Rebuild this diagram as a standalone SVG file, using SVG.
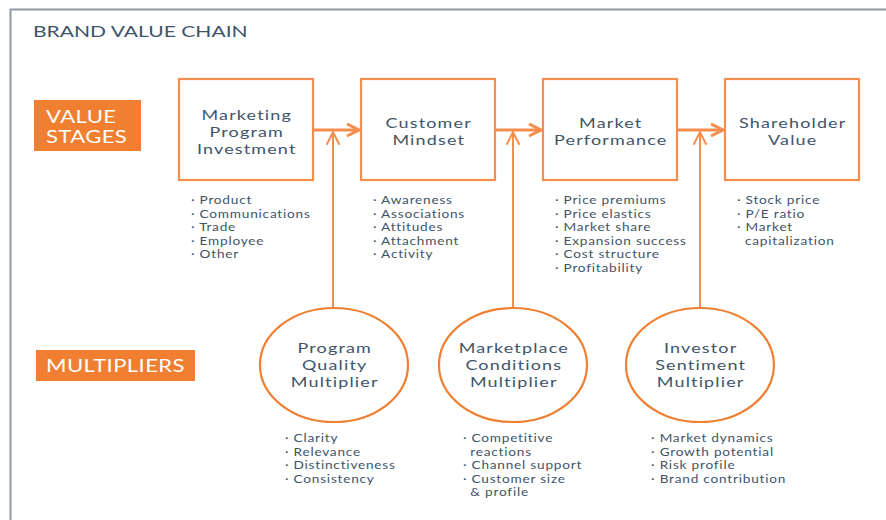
<svg xmlns="http://www.w3.org/2000/svg" width="886" height="520" viewBox="0 0 886 520">
<defs>
<style>
text{font-family:Lato,"Open Sans","Liberation Sans",sans-serif;fill:#415468}
.title{font-size:16.2px;letter-spacing:0}
.tag{fill:#f07f32}
.tagt{fill:#ffffff;font-size:17px;letter-spacing:0.3px}
.box{fill:#ffffff;stroke:#f48d4e;stroke-width:2.2}
.ell{fill:#ffffff;stroke:#f07f32;stroke-width:2.2}
.nt{font-size:13.8px;letter-spacing:0.9px;text-anchor:middle}
.bl{font-size:10.5px;letter-spacing:0.6px}
.con{stroke:#f48d4e;fill:none}
</style>
<marker id="ah" viewBox="0 0 10 10" refX="9" refY="5" markerWidth="5" markerHeight="5" markerUnits="strokeWidth" orient="auto">
<path d="M1,1 L9,5 L1,9" fill="none" stroke="#f48d4e" stroke-width="2"/>
</marker>
<marker id="ah2" viewBox="0 0 10 10" refX="9" refY="5" markerWidth="8" markerHeight="8" markerUnits="strokeWidth" orient="auto">
<path d="M1,1 L9,5 L1,9" fill="none" stroke="#f48d4e" stroke-width="1.2"/>
</marker>
</defs>
<rect width="886" height="520" fill="#ffffff"/>
<path d="M10.5,520 V9.5 H886" fill="none" stroke="#8d99a6" stroke-width="2"/>
<g transform="scale(1.3 1)">
<text class="title" x="25.38" y="37">BRAND VALUE CHAIN</text>
</g>

<g id="value-stages">
<rect class="tag" x="34" y="100" width="107" height="51"/>
<g transform="scale(1.3 1)">
<text class="tagt" x="35.38" y="123.5">VALUE</text>
<text class="tagt" x="35.38" y="143">STAGES</text>
</g>
</g>
<g id="multipliers">
<rect class="tag" x="36" y="350" width="159" height="31"/>
<g transform="scale(1.3 1)">
<text class="tagt" x="35.38" y="372">MULTIPLIERS</text>
</g>
</g>

<g id="connectors">
<line class="con" x1="313" y1="130" x2="359" y2="130" stroke-width="3" marker-end="url(#ah)"/>
<line class="con" x1="495" y1="130" x2="541" y2="130" stroke-width="3" marker-end="url(#ah)"/>
<line class="con" x1="677" y1="130" x2="723" y2="130" stroke-width="3" marker-end="url(#ah)"/>
<line class="con" x1="333" y1="308" x2="333" y2="132" stroke-width="2" marker-end="url(#ah2)"/>
<line class="con" x1="513" y1="308" x2="513" y2="132" stroke-width="2" marker-end="url(#ah2)"/>
<line class="con" x1="700" y1="308" x2="700" y2="132" stroke-width="2" marker-end="url(#ah2)"/>
</g>

<g id="marketing-program-investment">
<rect class="box" x="179" y="79" width="134" height="101"/>
<g transform="scale(1.3 1)">
<text class="nt" x="189.8" y="120">Marketing</text>
<text class="nt" x="189.8" y="136.8">Program</text>
<text class="nt" x="189.8" y="153.6">Investment</text>
<text class="bl" x="146.9" y="204.5">· Product</text>
<text class="bl" x="146.9" y="218">· Communications</text>
<text class="bl" x="146.9" y="231.5">· Trade</text>
<text class="bl" x="146.9" y="245">· Employee</text>
<text class="bl" x="146.9" y="258.5">· Other</text>
</g>
</g>

<g id="customer-mindset">
<rect class="box" x="361" y="79" width="134" height="101"/>
<g transform="scale(1.3 1)">
<text class="nt" x="329.8" y="128.5">Customer</text>
<text class="nt" x="329.8" y="145.3">Mindset</text>
<text class="bl" x="286.9" y="204.5">· Awareness</text>
<text class="bl" x="286.9" y="218">· Associations</text>
<text class="bl" x="286.9" y="231.5">· Attitudes</text>
<text class="bl" x="286.9" y="245">· Attachment</text>
<text class="bl" x="286.9" y="258.5">· Activity</text>
</g>
</g>

<g id="market-performance">
<rect class="box" x="543" y="79" width="134" height="101"/>
<g transform="scale(1.3 1)">
<text class="nt" x="469.8" y="128.5">Market</text>
<text class="nt" x="469.8" y="145.3">Performance</text>
<text class="bl" x="426.9" y="204.5">· Price premiums</text>
<text class="bl" x="426.9" y="218">· Price elastics</text>
<text class="bl" x="426.9" y="231.5">· Market share</text>
<text class="bl" x="426.9" y="245">· Expansion success</text>
<text class="bl" x="426.9" y="258.5">· Cost structure</text>
<text class="bl" x="426.9" y="272">· Profitability</text>
</g>
</g>

<g id="shareholder-value">
<rect class="box" x="725" y="79" width="134" height="101"/>
<g transform="scale(1.3 1)">
<text class="nt" x="609.8" y="128.5">Shareholder</text>
<text class="nt" x="609.8" y="145.3">Value</text>
<text class="bl" x="566.9" y="204.5">· Stock price</text>
<text class="bl" x="566.9" y="218">· P/E ratio</text>
<text class="bl" x="566.9" y="231.5">· Market</text>
<text class="bl" x="573.1" y="245">capitalization</text>
</g>
</g>

<g id="program-quality-multiplier">
<ellipse class="ell" cx="334" cy="365" rx="74" ry="57"/>
<g transform="scale(1.3 1)">
<text class="nt" x="257.5" y="353.5">Program</text>
<text class="nt" x="257.5" y="370.3">Quality</text>
<text class="nt" x="257.5" y="387.1">Multiplier</text>
<text class="bl" x="219.2" y="442.5">· Clarity</text>
<text class="bl" x="219.2" y="456">· Relevance</text>
<text class="bl" x="219.2" y="469.5">· Distinctiveness</text>
<text class="bl" x="219.2" y="483">· Consistency</text>
</g>
</g>

<g id="marketplace-conditions-multiplier">
<ellipse class="ell" cx="513" cy="365" rx="74" ry="57"/>
<g transform="scale(1.3 1)">
<text class="nt" x="395.2" y="353.5">Marketplace</text>
<text class="nt" x="395.2" y="370.3">Conditions</text>
<text class="nt" x="395.2" y="387.1">Multiplier</text>
<text class="bl" x="356.1" y="442.5">· Competitive</text>
<text class="bl" x="361.8" y="456">reactions</text>
<text class="bl" x="356.1" y="469.5">· Channel support</text>
<text class="bl" x="356.1" y="483">· Customer size</text>
<text class="bl" x="361.8" y="496.5">&amp; profile</text>
</g>
</g>

<g id="investor-sentiment-multiplier">
<ellipse class="ell" cx="700" cy="365" rx="74" ry="57"/>
<g transform="scale(1.3 1)">
<text class="nt" x="539" y="353.5">Investor</text>
<text class="nt" x="539" y="370.3">Sentiment</text>
<text class="nt" x="539" y="387.1">Multiplier</text>
<text class="bl" x="500.8" y="442.5">· Market dynamics</text>
<text class="bl" x="500.8" y="456">· Growth potential</text>
<text class="bl" x="500.8" y="469.5">· Risk profile</text>
<text class="bl" x="500.8" y="483">· Brand contribution</text>
</g>
</g>
</svg>
